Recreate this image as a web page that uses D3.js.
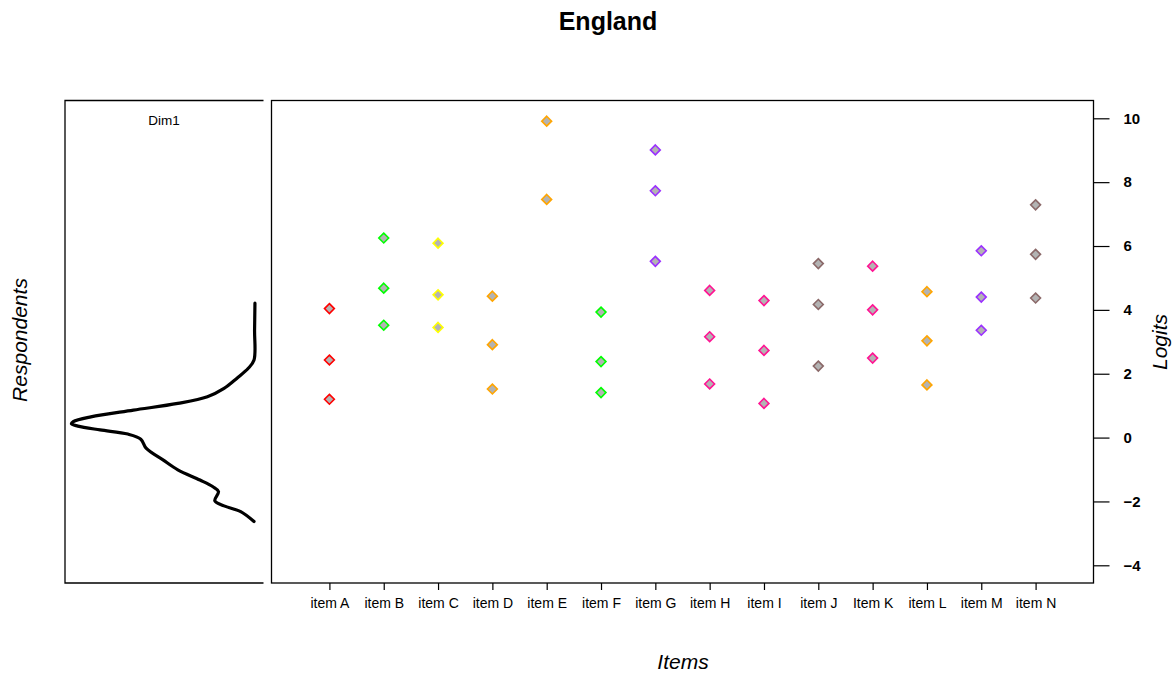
<!DOCTYPE html>
<html>
<head>
<meta charset="utf-8">
<script src="https://cdn.jsdelivr.net/npm/d3@7"></script>
<style>
  body { margin: 0; background: #fff; }
  svg { font-family: "Liberation Sans", Arial, sans-serif; }
</style>
</head>
<body>
<svg id="chart" width="1176" height="676"></svg>
<script>
// Item labels and their threshold colours
const items = ["item A", "item B", "item C", "item D", "item E", "item F", "item G",
               "item H", "item I", "item J", "Item K", "item L", "item M", "item N"];
const itemColors = ["#FF0000", "#00FF00", "#FFFF00", "#FFA500", "#FFA500", "#00FF00", "#9B30FF",
                    "#FF1493", "#FF1493", "#8B6969", "#FF1493", "#FFA500", "#9B30FF", "#8B6969"];

// Thresholds (logits) per item, lowest to highest
const threshold1 = [1.20, 3.52, 3.45, 1.52, null, 1.41, 5.52, 1.68, 1.07, 2.24, 2.49, 1.65, 3.36, 4.37];
const threshold2 = [2.43, 4.68, 4.47, 2.91, 7.46, 2.38, 7.73, 3.16, 2.73, 4.17, 4.00, 3.03, 4.40, 5.74];
const threshold3 = [4.04, 6.25, 6.09, 4.43, 9.91, 3.93, 9.01, 4.61, 4.29, 5.45, 5.37, 4.57, 5.85, 7.29];

// Respondent ability density (relative), traced along the logit scale
const densityLogits = [4.21, 3.37, 2.43, 2.17, 1.86, 1.54, 1.28, 1.07, 0.86, 0.65, 0.50, 0.43, 0.36,
                       0.24, 0.11, -0.05, -0.34, -0.70, -1.01, -1.33, -1.54, -1.69, -1.98, -2.14, -2.32, -2.63];
const densityValues = [0.003, 0.005, 0.008, 0.039, 0.10, 0.17, 0.26, 0.42, 0.66, 0.89, 0.985, 0.995, 0.96,
                       0.84, 0.69, 0.62, 0.59, 0.50, 0.42, 0.30, 0.23, 0.20, 0.22, 0.17, 0.08, 0.008];

const logitTicks = [-4, -2, 0, 2, 4, 6, 8, 10];

const svg = d3.select("#chart");

// Panel geometry
const panelTop = 100.5, panelBottom = 583;
const leftPanel = { x0: 65, x1: 263.5 };
const mainPanel = { x0: 271.5, x1: 1093.5 };

const y = d3.scaleLinear().domain([-4, 10]).range([565.3, 118.3]);
const x = d3.scalePoint().domain(items).range([mainPanel.x0, mainPanel.x1]).padding(1.066);
const dx = d3.scaleLinear().domain([0, 1]).range([255.5, 70.5]);

// Title
svg.append("text")
  .attr("x", 608).attr("y", 30)
  .attr("text-anchor", "middle")
  .attr("font-weight", "bold").attr("font-size", 25)
  .text("England");

// Left panel: open on the right side
svg.append("path")
  .attr("d", `M${leftPanel.x1},${panelTop}H${leftPanel.x0}V${panelBottom}H${leftPanel.x1}`)
  .attr("fill", "none").attr("stroke", "#000").attr("stroke-width", 1.3);

svg.append("text")
  .attr("x", 164).attr("y", 125)
  .attr("text-anchor", "middle").attr("font-size", 13.5)
  .text("Dim1");

const densityLine = d3.line()
  .x(d => dx(d[1]))
  .y(d => y(d[0]))
  .curve(d3.curveCatmullRom.alpha(0.5));

svg.append("path")
  .datum(densityLogits.map((v, i) => [v, densityValues[i]]))
  .attr("d", densityLine)
  .attr("fill", "none").attr("stroke", "#000").attr("stroke-width", 3.2)
  .attr("stroke-linejoin", "round").attr("stroke-linecap", "round");

svg.append("text")
  .attr("transform", "translate(27,340) rotate(-90)")
  .attr("text-anchor", "middle").attr("font-style", "italic").attr("font-size", 21)
  .text("Respondents");

// Main panel box
svg.append("rect")
  .attr("x", mainPanel.x0).attr("y", panelTop)
  .attr("width", mainPanel.x1 - mainPanel.x0).attr("height", panelBottom - panelTop)
  .attr("fill", "none").attr("stroke", "#000").attr("stroke-width", 1.3);

// Bottom item axis
const xAxis = svg.append("g")
  .attr("transform", `translate(0,${panelBottom})`)
  .call(d3.axisBottom(x).tickSize(7).tickPadding(8));
xAxis.select(".domain").remove();
xAxis.selectAll("line").attr("stroke-width", 1.2);
xAxis.selectAll("text").attr("font-size", 14).attr("font-family", "Liberation Sans, Arial, sans-serif");

// Right logit axis
const yAxis = svg.append("g")
  .attr("transform", `translate(${mainPanel.x1},0)`)
  .call(d3.axisRight(y).tickValues(logitTicks).tickSize(16).tickPadding(14)
        .tickFormat(d => d < 0 ? "\u2212" + Math.abs(d) : d));
yAxis.select(".domain").remove();
yAxis.selectAll("line").attr("stroke-width", 1.2);
yAxis.selectAll("text").attr("font-size", 15).attr("font-weight", "bold")
  .attr("font-family", "Liberation Sans, Arial, sans-serif");

svg.append("text")
  .attr("transform", "translate(1167,342) rotate(-90)")
  .attr("text-anchor", "middle").attr("font-style", "italic").attr("font-size", 21)
  .text("Logits");

svg.append("text")
  .attr("x", 683).attr("y", 669)
  .attr("text-anchor", "middle").attr("font-style", "italic").attr("font-size", 21)
  .text("Items");

// Threshold diamonds
const points = [];
items.forEach((it, i) => {
  [threshold1[i], threshold2[i], threshold3[i]].forEach(v => {
    if (v !== null) points.push({ item: it, value: v, color: itemColors[i] });
  });
});

const diamond = d3.symbol().type(d3.symbolDiamond2).size(62);
svg.append("g").selectAll("path")
  .data(points)
  .join("path")
  .attr("transform", d => `translate(${x(d.item)},${y(d.value)})`)
  .attr("d", diamond)
  .attr("fill", "#B3B3B3")
  .attr("stroke", d => d.color)
  .attr("stroke-width", 1.6);
</script>
</body>
</html>
